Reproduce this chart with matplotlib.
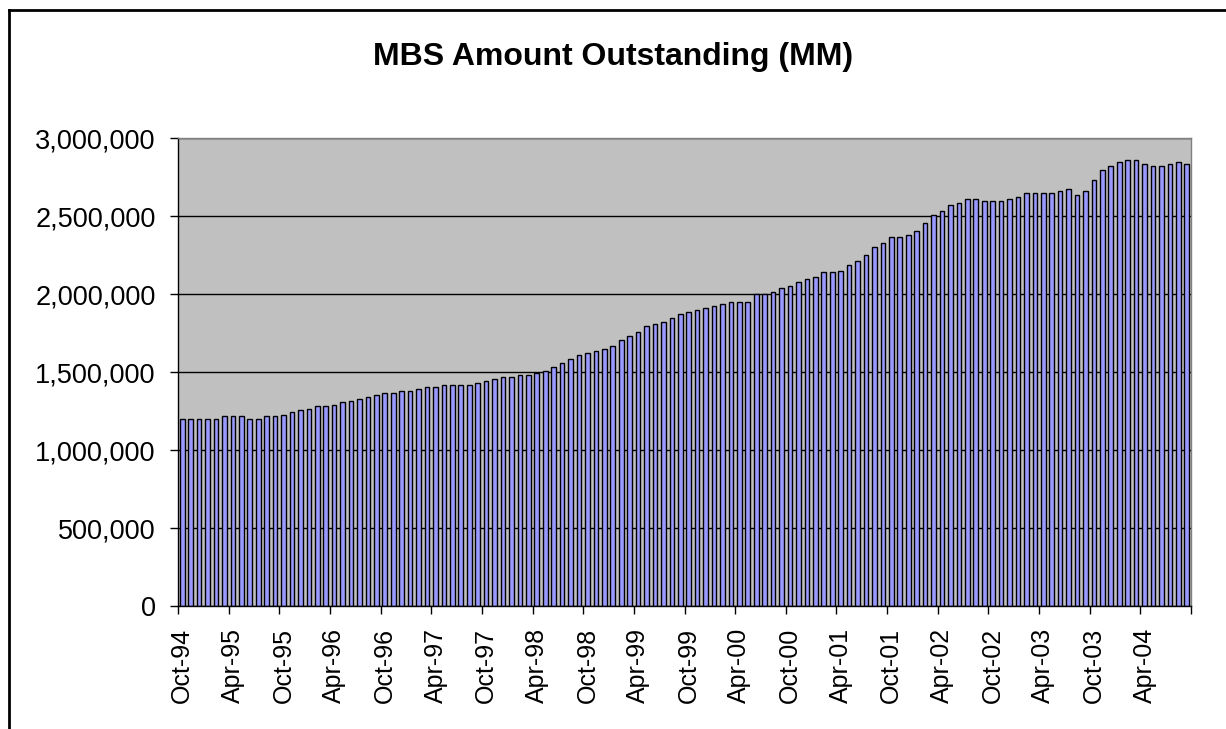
#!/usr/bin/env python3
import numpy as np
import matplotlib
matplotlib.use("Agg")
import matplotlib.pyplot as plt
from matplotlib.ticker import FuncFormatter
from matplotlib.lines import Line2D

plt.rcParams['font.family'] = ['Liberation Sans', 'DejaVu Sans']

# monthly MBS amount outstanding, Oct-94 .. Sep-04
outstanding = [
    1200000, 1200000, 1200000, 1200000, 1200000, 1215000, 1215000, 1215000,
    1200000, 1200000, 1215000, 1215000, 1226000, 1241000, 1254000, 1265000,
    1280000, 1280000, 1290000, 1305000, 1316000, 1329000, 1342000, 1355000,
    1367000, 1367000, 1378000, 1378000, 1393000, 1406000, 1406000, 1417000,
    1417000, 1417000, 1417000, 1430000, 1442000, 1455000, 1468000, 1468000,
    1479000, 1479000, 1491000, 1506000, 1530000, 1556000, 1583000, 1607000,
    1620000, 1633000, 1646000, 1669000, 1708000, 1733000, 1757000, 1795000,
    1808000, 1821000, 1847000, 1872000, 1885000, 1898000, 1909000, 1922000,
    1934000, 1947000, 1947000, 1947000, 2003000, 2003000, 2011000, 2037000,
    2050000, 2076000, 2099000, 2112000, 2138000, 2138000, 2150000, 2187000,
    2213000, 2249000, 2300000, 2326000, 2364000, 2364000, 2377000, 2403000,
    2452000, 2504000, 2531000, 2568000, 2581000, 2606000, 2606000, 2593000,
    2593000, 2593000, 2606000, 2619000, 2645000, 2645000, 2645000, 2645000,
    2658000, 2670000, 2632000, 2658000, 2733000, 2797000, 2820000, 2846000,
    2859000, 2859000, 2835000, 2822000, 2822000, 2835000, 2846000, 2835000,
]

tick_labels = ["Oct-94", "Apr-95", "Oct-95", "Apr-96", "Oct-96", "Apr-97",
               "Oct-97", "Apr-98", "Oct-98", "Apr-99", "Oct-99", "Apr-00",
               "Oct-00", "Apr-01", "Oct-01", "Apr-02", "Oct-02", "Apr-03",
               "Oct-03", "Apr-04"]

n = len(outstanding)
x = np.arange(n)

fig = plt.figure(figsize=(12.26, 7.29), dpi=100)
ax = fig.add_axes([178/1226, 1-606/729, (1191-178)/1226, (606-138)/729])
ax.set_facecolor('#C0C0C0')

ax.bar(x, outstanding, width=0.55, color='#9999FF', edgecolor='black',
       linewidth=1.0, zorder=3)

ax.set_xlim(-0.5, n - 0.5)
ax.set_ylim(0, 3000000)
ax.set_yticks(np.arange(0, 3000001, 500000))
ax.yaxis.set_major_formatter(FuncFormatter(lambda v, p: f"{int(v):,}"))
ax.yaxis.grid(True, color='black', linewidth=1.0, zorder=1)
ax.set_axisbelow(True)

# labels centred on categories, tick marks between categories
ax.set_xticks(x[::6])
ax.set_xticklabels(tick_labels, rotation=90)
ax.set_xticks(np.arange(-0.5, n, 6), minor=True)
ax.tick_params(axis='x', which='major', length=0, pad=16, labelsize=18)
ax.tick_params(axis='x', which='minor', length=6, width=1, color='black')
ax.tick_params(axis='y', length=6, width=1, pad=10, labelsize=19.5)

ax.spines['left'].set_color('black')
ax.spines['bottom'].set_color('black')
ax.spines['top'].set_color('#808080')
ax.spines['right'].set_color('#808080')
for s in ax.spines.values():
    s.set_linewidth(1.0)
    s.set_zorder(4)

fig.text(0.5, 1-57/729, "MBS Amount Outstanding (MM)", ha='center',
         va='center', fontsize=23, fontweight='bold')

# chart frame (top and left edges visible)
fig.add_artist(Line2D([9/1226, 1], [1-10/729, 1-10/729], color='black', lw=2))
fig.add_artist(Line2D([9/1226, 9/1226], [0, 1-10/729], color='black', lw=2))

fig.savefig("out.png", dpi=100)
